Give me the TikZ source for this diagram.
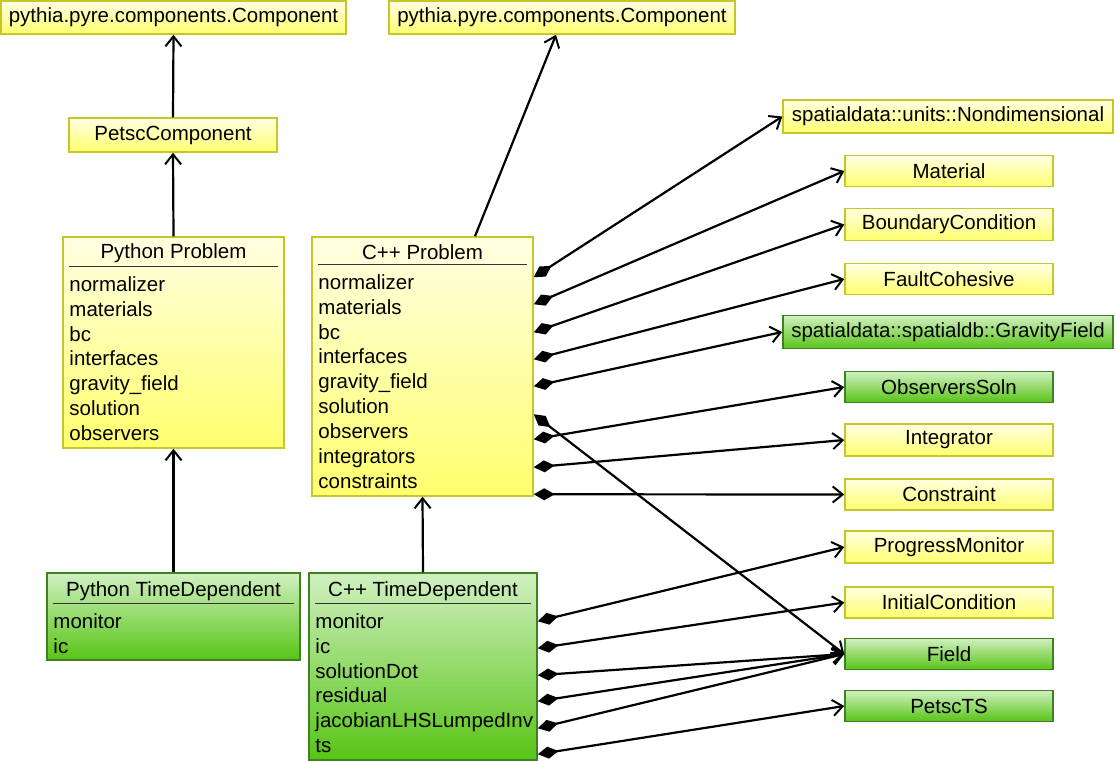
\documentclass[tikz,border=0pt]{standalone}
\usepackage{fontspec}
\setmainfont{Liberation Sans}
\usetikzlibrary{arrows.meta,calc}
\definecolor{ytop}{RGB}{255,255,226}
\definecolor{ybot}{RGB}{255,255,110}
\definecolor{yline}{RGB}{198,198,40}
\definecolor{gtop}{RGB}{208,240,192}
\definecolor{gbot}{RGB}{88,196,22}
\definecolor{gline}{RGB}{62,130,36}
\begin{document}
\begin{tikzpicture}[x=1pt,y=-1pt,
  font=\fontsize{20.5}{25}\selectfont,
  ybox/.style={draw=yline, line width=1.5pt, top color=ytop, bottom color=ybot, inner sep=0pt},
  gbox/.style={draw=gline, line width=1.5pt, top color=gtop, bottom color=gbot, inner sep=0pt},
  attr/.style={anchor=base west, inner sep=0pt},
  ttl/.style={anchor=base, inner sep=0pt},
  rule/.style={line width=0.8pt, draw=black!80},
  inh/.style={line width=2.2pt, arrows={-Straight Barb[length=10pt,width=16pt,line width=2pt]}},
  comp/.style={line width=2.2pt, arrows={Diamond[length=21pt,width=12pt]-Straight Barb[length=10pt,width=16pt,line width=2pt]}}
]
\useasboundingbox (0,0) rectangle (1115,761);

% simple boxes
\node[ybox, minimum width=345, minimum height=33] (top1) at (173.5,17.5) {pythia.pyre.components.Component};
\node[ybox, minimum width=346, minimum height=33] (top2) at (562,17.5) {pythia.pyre.components.Component};
\node[ybox, minimum width=208, minimum height=34] (petsc) at (173,135) {PetscComponent};

\node[ybox, minimum width=330, minimum height=33] (nondim) at (948,116.5) {spatialdata::units::Nondimensional};
\node[ybox, minimum width=208, minimum height=31] (material) at (949,171) {Material};
\node[ybox, minimum width=208, minimum height=32] (bcbox) at (949,224.5) {BoundaryCondition};
\node[ybox, minimum width=208, minimum height=31] (fault) at (949,279) {FaultCohesive};
\node[gbox, minimum width=330, minimum height=33] (grav) at (948,332) {spatialdata::spatialdb::GravityField};
\node[gbox, minimum width=208, minimum height=31] (obs) at (949,387) {ObserversSoln};
\node[ybox, minimum width=208, minimum height=32] (integ) at (949,440) {Integrator};
\node[ybox, minimum width=208, minimum height=31] (constr) at (949,494.5) {Constraint};
\node[ybox, minimum width=208, minimum height=32] (progmon) at (949,547) {ProgressMonitor};
\node[ybox, minimum width=208, minimum height=31] (initcond) at (949,602.5) {InitialCondition};
\node[gbox, minimum width=208, minimum height=31] (field) at (949,654) {Field};
\node[gbox, minimum width=208, minimum height=31] (petscts) at (949,706) {PetscTS};

% Python Problem
\node[ybox, minimum width=221, minimum height=211] (pyprob) at (173.5,342.5) {};
\node[ttl] (pyprob-t) at ($(pyprob.north)+(0,22)$) {Python Problem};
\draw[rule] ($(pyprob.north west)+(7,30)$) -- ($(pyprob.north east)+(-7,30)$);
\foreach \t [count=\i from 0] in {normalizer,materials,bc,interfaces,gravity\_field,solution,observers}
  \node[attr] (pp-\i) at ($(pyprob.north west)+(7,55+24.9*\i)$) {\t};

% C++ Problem
\node[ybox, minimum width=221, minimum height=259] (cppprob) at (422.5,366.5) {};
\node[ttl] (cppprob-t) at ($(cppprob.north)+(0,23)$) {C++ Problem};
\draw[rule] ($(cppprob.north west)+(7,28)$) -- ($(cppprob.north east)+(-7,28)$);
\foreach \t [count=\i from 0] in {normalizer,materials,bc,interfaces,gravity\_field,solution,observers,integrators,constraints}
  \node[attr] (cp-\i) at ($(cppprob.north west)+(7,53+24.9*\i)$) {\t};

% Python TimeDependent
\node[gbox, minimum width=253, minimum height=87] (pytd) at (173.5,616.5) {};
\node[ttl] (pytd-t) at ($(pytd.north)+(0,24)$) {Python TimeDependent};
\draw[rule] ($(pytd.north west)+(7,31)$) -- ($(pytd.north east)+(-7,31)$);
\foreach \t [count=\i from 0] in {monitor,ic}
  \node[attr] (pt-\i) at ($(pytd.north west)+(7,56+24.9*\i)$) {\t};

% C++ TimeDependent
\node[gbox, minimum width=228, minimum height=187] (cpptd) at (423,666.5) {};
\node[ttl] (cpptd-t) at ($(cpptd.north)+(0,24)$) {C++ TimeDependent};
\draw[rule] ($(cpptd.north west)+(7,31)$) -- ($(cpptd.north east)+(-7,31)$);
\foreach \t [count=\i from 0] in {monitor,ic,solutionDot,residual,jacobianLHSLumpedInv,ts}
  \node[attr] (ct-\i) at ($(cpptd.north west)+(7,56+24.9*\i)$) {\t};

% ports
\foreach \n/\y in {1/41,2/68,3/96,4/123,5/150,6/178,7/203,8/231,9/258}
  \coordinate (cpp\n) at ($(cppprob.north east)+(0,\y)$);
\foreach \n/\y in {1/49,2/76,3/103,4/129,5/156,6/182}
  \coordinate (ctd\n) at ($(cpptd.north east)+(0,\y)$);

% inheritance
\draw[inh] (petsc.north) -- (top1.south);
\draw[inh] (pyprob.north) -- (petsc.south);
\draw[inh] (pytd.north) -- (pyprob.south);
\draw[inh] ([xshift=52.5pt]cppprob.north) -- ([xshift=-6pt]top2.south);
\draw[inh] (cpptd.north) -- (cppprob.south);

% composition
\draw[comp] (cpp1) -- (nondim.west);
\draw[comp] (cpp2) -- (material.west);
\draw[comp] (cpp3) -- (bcbox.west);
\draw[comp] (cpp4) -- (fault.west);
\draw[comp] (cpp5) -- (grav.west);
\draw[comp] (cpp6) -- (field.west);
\draw[comp] (cpp7) -- (obs.west);
\draw[comp] (cpp8) -- (integ.west);
\draw[comp] (cpp9) -- (constr.west);

\draw[comp] (ctd1) -- (progmon.west);
\draw[comp] (ctd2) -- (initcond.west);
\draw[comp] (ctd3) -- (field.west);
\draw[comp] (ctd4) -- (field.west);
\draw[comp] (ctd5) -- (field.west);
\draw[comp] (ctd6) -- (petscts.west);
\end{tikzpicture}
\end{document}
